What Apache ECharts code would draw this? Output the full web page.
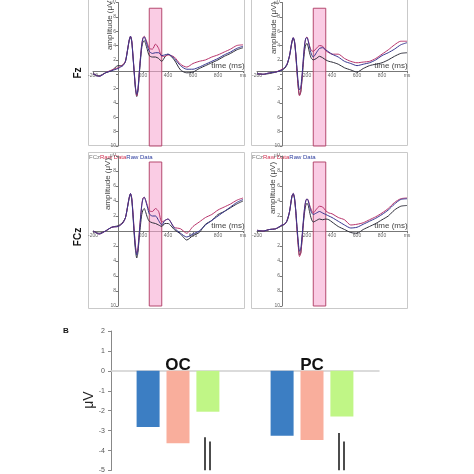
<!DOCTYPE html>
<html><head><meta charset="utf-8">
<script src="https://cdn.jsdelivr.net/npm/echarts@6/dist/echarts.min.js"></script>
<style>html,body{margin:0;padding:0;background:#fff}#c{width:474px;height:474px}</style>
</head><body><div id="c"></div>
<script>
// ---- data ----
var times = [-200,-150,-100,-50,0,20,40,60,80,90,100,110,120,130,140,150,160,170,180,190,200,210,220,235,250,275,300,325,350,375,400,450,500,550,600,650,700,750,800,850,900,950,1000];
var fzLeftBlue  = [0.1,-0.3,0.2,0.5,0.8,1.0,1.2,1.8,3.8,4.8,5.3,4.6,2.5,0.2,-1.9,-2.8,-2.0,0.2,2.3,4.1,5.0,5.2,4.8,4.0,3.2,2.9,3.0,3.0,2.6,2.7,2.8,2.2,1.2,0.7,0.7,1.0,1.4,1.8,2.2,2.7,3.1,3.6,3.9];
var fzLeftRed   = [0.1,-0.3,0.2,0.6,0.9,1.1,1.3,1.9,3.8,4.8,5.3,4.7,2.6,0.3,-1.9,-3.0,-2.1,0.2,2.4,4.2,5.1,5.3,5.0,4.3,3.6,3.5,4.2,3.6,2.5,2.5,2.7,2.4,1.4,1.0,1.5,1.8,2.0,2.4,2.7,3.1,3.5,4.0,4.1];
var fzLeftBlack = [0.0,-0.2,0.2,0.5,1.2,1.2,1.3,1.8,3.7,4.7,5.2,4.5,2.4,0.1,-2.1,-3.1,-2.3,-0.1,2.0,3.7,4.5,4.7,4.3,3.4,2.6,2.4,2.4,2.2,1.8,2.4,2.8,2.0,0.6,0.2,0.3,0.8,1.2,1.6,2.0,2.5,2.9,3.4,3.7];
var fzRightBlue  = [0.1,0.0,0.2,0.3,0.6,0.9,1.4,2.6,4.6,5.1,4.6,3.0,0.8,-1.2,-2.2,-1.8,-0.2,2.0,4.0,5.0,5.1,4.6,3.8,2.8,2.4,3.0,3.6,3.7,3.4,3.1,2.8,2.4,1.8,1.5,1.2,1.4,1.6,2.0,2.6,3.0,3.5,4.1,4.4];
var fzRightRed   = [0.1,0.0,0.2,0.3,0.7,0.9,1.4,2.6,4.6,5.1,4.6,2.8,0.4,-1.8,-3.0,-2.4,-0.6,1.8,3.9,5.0,5.2,4.7,4.0,3.3,3.2,3.6,4.0,3.9,3.3,3.0,2.8,2.8,2.2,1.8,1.6,1.7,1.8,2.2,2.8,3.4,4.1,4.6,4.6];
var fzRightBlack = [0.0,0.0,0.1,0.3,0.6,0.8,1.3,2.5,4.5,5.0,4.5,2.8,0.4,-1.8,-2.9,-2.5,-0.8,1.4,3.2,4.1,4.3,3.8,3.0,2.2,2.0,2.2,2.5,2.3,2.0,1.8,1.7,1.4,0.9,0.6,0.3,0.8,1.2,1.4,1.6,2.0,2.5,2.9,3.0];
var fczLeftBlue  = [0.0,-0.4,0.0,0.5,0.6,0.8,1.1,1.8,3.6,4.5,5.0,4.3,2.2,-0.2,-2.2,-3.2,-2.4,-0.4,1.6,3.4,4.3,4.5,4.1,3.2,2.3,2.0,2.0,1.4,0.8,1.4,1.6,0.4,-0.3,-0.8,-0.4,0.0,0.8,1.4,2.0,2.6,3.2,3.8,4.2];
var fczLeftRed   = [0.0,-0.4,0.0,0.5,0.6,0.8,1.1,1.8,3.6,4.5,5.0,4.4,2.4,0.0,-2.0,-3.0,-2.2,-0.2,1.8,3.5,4.4,4.5,4.2,3.4,2.7,2.6,3.0,2.6,1.2,1.4,1.6,0.5,0.3,-0.3,0.6,1.2,1.8,2.2,2.8,3.2,3.6,4.1,4.4];
var fczLeftBlack = [0.0,-0.3,0.0,0.5,0.7,0.9,1.2,1.8,3.5,4.4,4.9,4.2,2.0,-0.6,-2.6,-3.6,-2.8,-0.8,0.8,2.2,2.8,3.0,2.6,1.8,1.3,1.1,1.0,0.8,0.6,1.0,1.0,0.2,-0.4,-1.2,-0.6,-0.2,0.9,1.4,2.2,2.6,3.1,3.6,4.0];
var fczRightBlue  = [0.1,0.0,0.2,0.3,0.8,0.9,1.4,2.6,4.7,5.0,4.4,2.8,0.6,-1.4,-2.7,-2.4,-0.8,1.2,3.0,4.0,4.3,4.0,3.3,2.5,2.2,2.4,2.6,2.4,2.2,2.0,1.8,1.3,0.8,0.4,0.5,0.9,1.3,1.7,2.2,2.8,3.6,4.2,4.3];
var fczRightRed   = [0.1,0.0,0.2,0.3,0.8,0.9,1.4,2.6,4.7,5.0,4.4,2.6,0.2,-2.0,-3.4,-3.0,-1.2,1.0,2.9,4.0,4.3,4.1,3.5,2.8,2.4,2.9,3.3,3.2,2.7,2.4,2.3,1.8,1.5,0.8,0.9,1.1,1.5,1.9,2.4,3.0,3.8,4.3,4.4];
var fczRightBlack = [0.0,0.0,0.2,0.3,0.7,0.9,1.3,2.5,4.6,4.9,4.3,2.6,0.3,-1.8,-3.2,-2.9,-1.2,0.8,2.4,3.4,3.7,3.4,2.6,1.6,1.2,1.4,1.6,1.5,1.6,1.5,1.2,0.6,0.2,-0.2,-0.3,0.2,0.6,1.0,1.5,2.0,2.8,3.3,3.4];
var windowStart = 250, windowEnd = 350, windowTop = 9.2;

var barCategories = ['OC','PC'];
var barBlue   = [-2.82, -3.26];
var barSalmon = [-3.63, -3.47];
var barGreen  = [-2.05, -2.29];
var sigLine1 = [-3.33, -3.12];
var sigLine2 = [-3.54, -3.54];

// ---- chart ----
var chart = echarts.init(document.getElementById('c'), null, {renderer:'canvas'});
var F = 'Liberation Sans, Arial, sans-serif';
var panels = [
  {left:93, top:-4, data:[fzLeftBlack, fzLeftRed, fzLeftBlue]},
  {left:257, top:-4, data:[fzRightBlack, fzRightRed, fzRightBlue]},
  {left:93, top:156, data:[fczLeftBlack, fczLeftRed, fczLeftBlue]},
  {left:257, top:156, data:[fczRightBlack, fczRightRed, fczRightBlue]}
];
var lineColors = ['#2e2e3a', '#b8336b', '#36358f'];
var grids = [], xAxes = [], yAxes = [], series = [];
panels.forEach(function(p, i){
  grids.push({left:p.left, top:p.top, width:150, height:150});
  xAxes.push({type:'value', gridIndex:i, min:-200, max:1000, interval:200, position:'bottom', offset:-75,
    axisLine:{onZero:false, lineStyle:{color:'#777', width:1}},
    axisTick:{length:2, lineStyle:{color:'#777'}},
    splitLine:{show:false},
    axisLabel:{fontSize:5, color:'#666', margin:2, fontFamily:F,
      formatter:function(v){ return v===0 ? '' : (v===1000 ? 'ms' : String(v)); }}
  });
  yAxes.push({type:'value', gridIndex:i, min:-10, max:10, interval:2, position:'left', offset:-25,
    axisLine:{show:true, onZero:false, lineStyle:{color:'#777', width:1}},
    axisTick:{show:true, length:2, lineStyle:{color:'#777'}},
    splitLine:{show:false},
    axisLabel:{fontSize:5, color:'#666', margin:2, fontFamily:F,
      formatter:function(v){ return v===0 ? '' : (v===10 ? 'μV' : String(Math.abs(v))); }}
  });
  p.data.forEach(function(arr, k){
    var s = {type:'line', xAxisIndex:i, yAxisIndex:i, symbol:'none', smooth:0.25,
      lineStyle:{color:lineColors[k], width:1}, z:3,
      data: times.map(function(t, j){ return [t, arr[j]]; })};
    if (k === 0) {
      s.markArea = {silent:true, itemStyle:{color:'rgba(246,170,210,0.6)', borderColor:'#b5486f', borderWidth:1},
        data:[[{xAxis:windowStart, yAxis:-10},{xAxis:windowEnd, yAxis:windowTop}]]};
    }
    series.push(s);
  });
});

// bar chart grid
grids.push({left:111, top:331, width:268, height:166});
xAxes.push({type:'category', gridIndex:4, data:barCategories,
  axisLine:{onZero:true, lineStyle:{color:'#d0d0d0', width:1.5}},
  axisTick:{show:false}, axisLabel:{show:false}});
yAxes.push({type:'value', gridIndex:4, min:-5, max:2, interval:1,
  axisLine:{show:true, lineStyle:{color:'#888', width:1}},
  axisTick:{show:true, length:3, lineStyle:{color:'#888'}},
  splitLine:{show:false},
  axisLabel:{fontSize:7, color:'#555', margin:6, fontFamily:F}});
[['#3c7ec3', barBlue], ['#f9ae9c', barSalmon], ['#c0f686', barGreen]].forEach(function(b){
  series.push({type:'bar', xAxisIndex:4, yAxisIndex:4, data:b[1], barWidth:23, barGap:'30%',
    itemStyle:{color:b[0]}});
});
series.push({type:'custom', xAxisIndex:4, yAxisIndex:4, clip:true,
  data: barCategories.map(function(c, i){ return [i, sigLine1[i], sigLine2[i]]; }),
  renderItem:function(params, api){
    var p1 = api.coord([api.value(0), api.value(1)]);
    var p2 = api.coord([api.value(0), api.value(2)]);
    var bottom = api.coord([api.value(0), -5])[1];
    return {type:'group', children:[
      {type:'line', shape:{x1:p1[0]+27, y1:p1[1], x2:p1[0]+27, y2:bottom}, style:{stroke:'#111', lineWidth:1.5}},
      {type:'line', shape:{x1:p2[0]+32, y1:p2[1], x2:p2[0]+32, y2:bottom}, style:{stroke:'#111', lineWidth:1.5}}
    ]};
  }
});

function frame(x, y){ return {type:'rect', shape:{x:x, y:y, width:156, height:156}, style:{fill:'none', stroke:'#c9c9c9', lineWidth:1}, z:-1}; }
function vtext(txt, x, y, size, color, weight){
  return {type:'text', x:x, y:y, rotation:Math.PI/2,
    style:{text:txt, fontSize:size, fill:color, fontWeight:weight||'normal', fontFamily:F, align:'center', verticalAlign:'middle'}};
}
function htext(txt, x, y, size, color, weight, align){
  return {type:'text', x:x, y:y,
    style:{text:txt, fontSize:size, fill:color, fontWeight:weight||'normal', fontFamily:F, align:align||'center', verticalAlign:'middle'}};
}
function legend(x, y){
  return {type:'text', x:x, y:y, style:{text:'{a|FCz}{r|Raw Data}{b|Raw Data}', fontSize:6, fontFamily:F, verticalAlign:'middle',
    rich:{a:{fill:'#777', fontSize:6}, r:{fill:'#d03050', fontSize:6}, b:{fill:'#3040a0', fontSize:6}}}};
}
var graphic = [
  frame(88.5, -10.5), frame(251.5, -10.5), frame(88.5, 152.5), frame(251.5, 152.5),
  legend(89, 157), legend(252, 157),
  vtext('amplitude (μV)', 110, 24, 8, '#444'), vtext('amplitude (μV)', 274, 28, 8, '#444'),
  vtext('amplitude (μV)', 108, 184, 8, '#444'), vtext('amplitude (μV)', 273, 188, 8, '#444'),
  htext('time (ms)', 228, 66, 8, '#444'), htext('time (ms)', 391, 66, 8, '#444'),
  htext('time (ms)', 228, 226, 8, '#444'), htext('time (ms)', 391, 226, 8, '#444'),
  vtext('Fz', 78, 73, 10, '#111', 'bold'), vtext('FCz', 78, 237, 10, '#111', 'bold'),
  htext('B', 66, 331, 8, '#111', 'bold'),
  vtext('μV', 89, 400, 14, '#222'),
  htext('OC', 178, 365, 17, '#111', 'bold'), htext('PC', 312, 365, 17, '#111', 'bold')
];

chart.setOption({animation:false, backgroundColor:'#fff', grid:grids, xAxis:xAxes, yAxis:yAxes, series:series, graphic:graphic});
</script></body></html>
